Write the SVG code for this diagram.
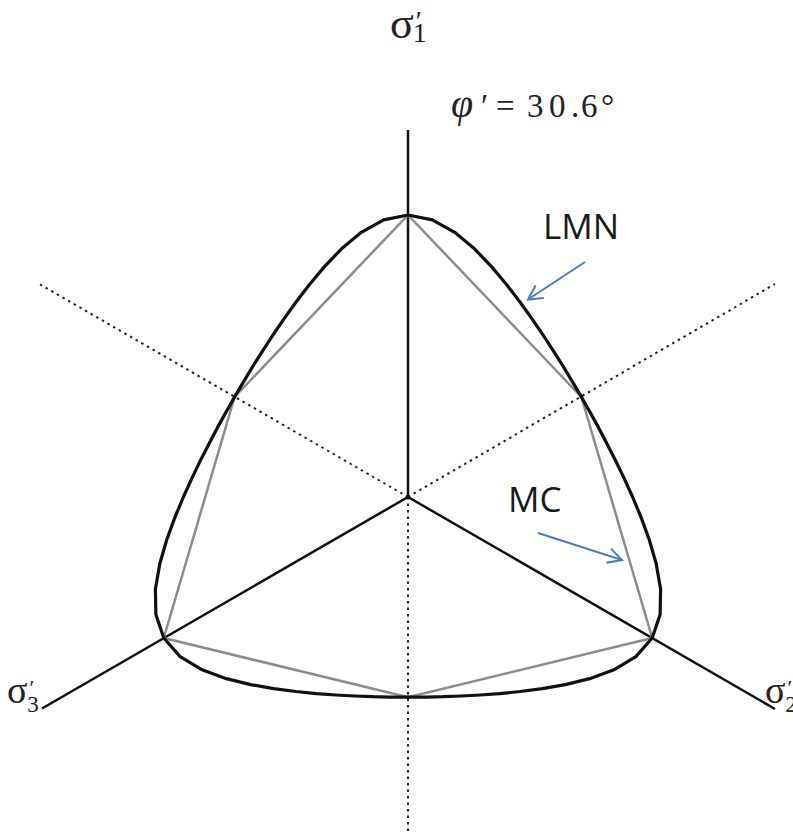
<svg xmlns="http://www.w3.org/2000/svg" xmlns:xlink="http://www.w3.org/1999/xlink" width="793" height="837" viewBox="0 0 793 837">
  <style>
    .axis { stroke: #111; stroke-width: 2.5; fill: none; }
    .dot { stroke: #222; stroke-width: 2; fill: none; stroke-dasharray: 2.5 4; }
    .mc { stroke: #8c8c8c; stroke-width: 2.5; fill: none; stroke-linejoin: round; }
    .lmn { stroke: #111; stroke-width: 3.2; fill: none; stroke-linejoin: round; stroke-linecap: round; }
    .arrow { stroke: #4a7ebb; stroke-width: 2; fill: none; }
    .serif { font-family: "Liberation Serif", "Times New Roman", serif; fill: #222; }
    .sans { font-family: "Open Sans", "Liberation Sans", sans-serif; fill: #1a1a1a; font-size: 35px; }
  </style>
  <defs>
    <marker id="chev" markerUnits="userSpaceOnUse" markerWidth="18" markerHeight="18" refX="15" refY="9" orient="auto">
      <path d="M1,1.5 L15,9 L1,16.5" fill="none" stroke="#4a7ebb" stroke-width="2"/>
    </marker>
    <polyline id="seg" points="234.62,396.9 243.51,381.82 252.65,366.64 262.34,351.34 272.56,335.6 283.59,319.33 295.7,302.49 309.11,284.92 324.24,266.87 341.51,248.85 361.32,232.28 383.75,219.86 408,215 432.25,219.86 454.68,232.28 474.49,248.85 491.76,266.87 506.89,284.92 520.3,302.49 532.41,319.33 543.44,335.6 553.66,351.34 563.35,366.64 572.49,381.82 581.38,396.9"/>
  </defs>
  <rect width="793" height="837" fill="#fff"/>

  <g id="connectors">
    <line class="dot" x1="408" y1="497" x2="40" y2="284.5"/>
    <line class="dot" x1="408" y1="497" x2="775" y2="284"/>
    <line class="dot" x1="408" y1="497" x2="408" y2="834"/>
    <line class="axis" x1="408" y1="497" x2="408" y2="130"/>
    <line class="axis" x1="408" y1="497" x2="42" y2="708.5"/>
    <line class="axis" x1="408" y1="497" x2="775" y2="709"/>
  </g>

  <g id="mc-surface">
    <polygon class="mc" points="408,215 581.4,397 652.2,638 408,697.2 163.8,638 234.6,397"/>
  </g>

  <g id="lmn-surface" class="lmn">
    <use xlink:href="#seg"/>
    <use xlink:href="#seg" transform="rotate(120 408 497)"/>
    <use xlink:href="#seg" transform="rotate(240 408 497)"/>
  </g>

  <g id="label-sigma1">
    <text class="serif" x="390" y="38" font-size="44">σ<tspan font-size="28" dx="2" dy="-8">′</tspan><tspan font-size="28" dx="-9" dy="12">1</tspan></text>
  </g>
  <g id="label-sigma3">
    <text class="serif" x="7" y="703" font-size="38">σ<tspan font-size="22" dx="2" dy="-8">′</tspan><tspan font-size="23" dx="-7" dy="17">3</tspan></text>
  </g>
  <g id="label-sigma2">
    <text class="serif" x="765" y="703" font-size="38">σ<tspan font-size="22" dx="2" dy="-8">′</tspan><tspan font-size="23" dx="-7" dy="17">2</tspan></text>
  </g>

  <g id="label-phi" class="serif" font-size="33">
    <text x="451" y="117" font-style="italic" font-size="40">φ</text>
    <text x="481" y="117">′</text>
    <text x="496" y="117">=</text>
    <text x="527" y="117">3</text>
    <text x="549" y="117">0</text>
    <text x="571" y="117">.</text>
    <text x="581" y="117">6</text>
    <text x="601" y="117">°</text>
  </g>

  <g id="label-lmn">
    <text class="sans" x="543" y="239">LMN</text>
    <line class="arrow" x1="585" y1="262" x2="528" y2="299.5" marker-end="url(#chev)"/>
  </g>
  <g id="label-mc">
    <text class="sans" x="508" y="512">MC</text>
    <line class="arrow" x1="538" y1="533" x2="622" y2="560" marker-end="url(#chev)"/>
  </g>
</svg>
